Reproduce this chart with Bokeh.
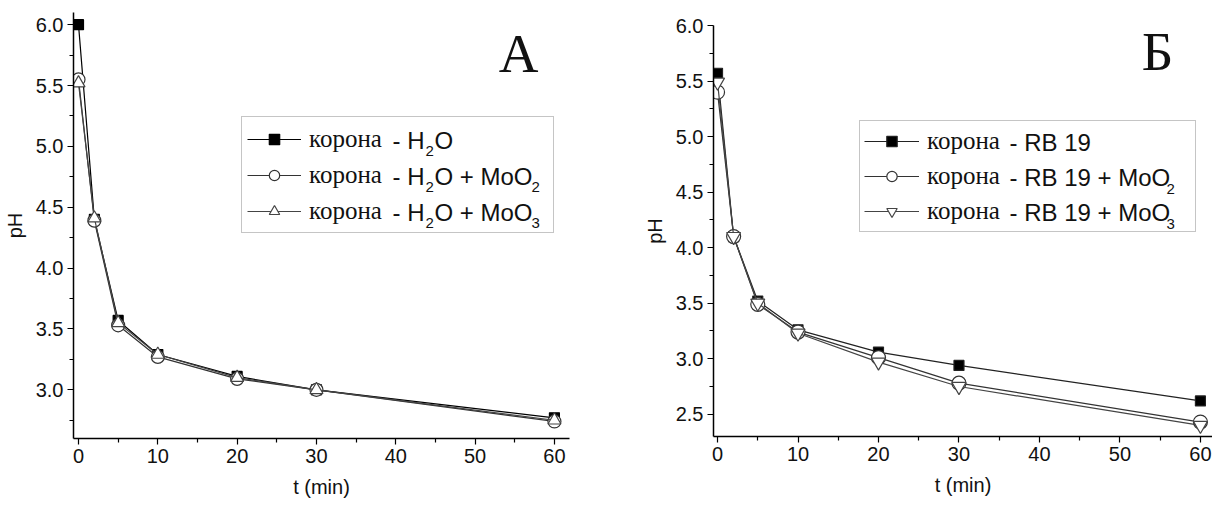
from bokeh.plotting import figure
from bokeh.layouts import row
from bokeh.models import (Range1d, Label, Legend, LegendItem, FixedTicker,
                          PrintfTickFormatter)
from bokeh.embed import file_html
from bokeh.resources import INLINE

# ---------------- data ----------------
t_min = [0, 2, 5, 10, 20, 30, 60]
ph_h2o = [6.00, 4.40, 3.57, 3.29, 3.11, 3.00, 2.77]
ph_h2o_moo2 = [5.55, 4.39, 3.53, 3.27, 3.09, 3.00, 2.74]
ph_h2o_moo3 = [5.52, 4.41, 3.55, 3.29, 3.10, 3.00, 2.75]
ph_rb19 = [5.57, 4.10, 3.52, 3.26, 3.06, 2.94, 2.62]
ph_rb19_moo2 = [5.40, 4.10, 3.49, 3.24, 3.01, 2.78, 2.43]
ph_rb19_moo3 = [5.49, 4.10, 3.50, 3.23, 2.97, 2.75, 2.40]

x_ticks = [0, 10, 20, 30, 40, 50, 60]
x_minor = [5, 15, 25, 35, 45, 55]
y_ticks_a = [3.0, 3.5, 4.0, 4.5, 5.0, 5.5, 6.0]
y_minor_a = [2.75, 3.25, 3.75, 4.25, 4.75, 5.25, 5.75]
y_ticks_b = [2.5, 3.0, 3.5, 4.0, 4.5, 5.0, 5.5, 6.0]
y_minor_b = [2.75, 3.25, 3.75, 4.25, 4.75, 5.25, 5.75]

legend_a = ["корона", "корона", "корона"]
legend_b = ["корона", "корона", "корона"]

SANS = "Liberation Sans"
SERIF = "Liberation Serif"
FIG_H = 506


def make_fig(width, frame, page_x, xr, yr, yt, ym):
    fl, ft, fw, fh = frame
    p = figure(width=width, height=FIG_H, output_backend="svg", toolbar_location=None,
               title=None, frame_align=False,
               x_range=Range1d(*xr), y_range=Range1d(*yr),
               min_border_left=fl - page_x, min_border_right=width - (fl - page_x) - fw,
               min_border_top=ft, min_border_bottom=FIG_H - ft - fh)
    p.outline_line_color = None
    p.xgrid.visible = False
    p.ygrid.visible = False
    p.xaxis.ticker = FixedTicker(ticks=x_ticks, minor_ticks=x_minor)
    p.yaxis.ticker = FixedTicker(ticks=yt, minor_ticks=ym)
    p.yaxis.formatter = PrintfTickFormatter(format="%.1f")
    for ax in (p.xaxis[0], p.yaxis[0]):
        ax.axis_line_color = "black"
        ax.axis_line_width = 1.5
        ax.major_tick_line_color = "black"
        ax.minor_tick_line_color = "black"
        ax.major_tick_line_width = 1.2
        ax.minor_tick_line_width = 1.2
        ax.major_tick_in = 0
        ax.major_tick_out = 6
        ax.minor_tick_in = 0
        ax.minor_tick_out = 4
        ax.major_label_text_font = SANS
        ax.major_label_text_font_size = "20px"
        ax.major_label_text_color = "#111111"
        ax.major_label_standoff = 4
        ax.axis_label_text_font = SANS
        ax.axis_label_text_font_size = "20px"
        ax.axis_label_text_font_style = "normal"
        ax.axis_label_text_color = "#111111"
    p.yaxis.axis_label = "pH"
    p.yaxis.axis_label_standoff = 7
    p.xaxis.axis_label = "t (min)"
    p.xaxis.axis_label_standoff = 10
    return p


def converters(frame, xr, yr):
    fl, ft, fw, fh = frame
    def cx(px):
        return xr[0] + (px - fl) / fw * (xr[1] - xr[0])
    def cy(py):
        return yr[1] - (py - ft) / fh * (yr[1] - yr[0])
    return cx, cy


def add_series(p, y, marker, size, line_color, fill):
    ln = p.line(t_min, y, line_color=line_color, line_width=1.2)
    sc = p.scatter(t_min, y, marker=marker, size=size, line_color=line_color,
                   fill_color=fill, line_width=1.2)
    return [ln, sc]


def add_text(p, x, y, txt, font=SANS, size="24px", style="normal", align="left",
             baseline="middle"):
    p.add_layout(Label(x=x, y=y, text=txt, text_font=font, text_font_size=size,
                       text_font_style=style, text_align=align,
                       text_baseline=baseline, text_color="#111111"))


def add_legend(p, items_r, labels, loc, label_width, label_height, spacing,
               padding, glyph_width):
    leg = Legend(items=[LegendItem(label=l, renderers=r) for l, r in zip(labels, items_r)],
                 location=loc, orientation="vertical",
                 label_text_font=SERIF, label_text_font_size="25px",
                 label_text_color="#111111",
                 label_width=label_width, label_height=label_height,
                 glyph_width=glyph_width, glyph_height=26, label_standoff=8,
                 spacing=spacing, padding=padding, margin=0,
                 border_line_color="#8c8c8c", border_line_width=1,
                 background_fill_alpha=0.0)
    p.add_layout(leg, "center")


# ---------------- panel A ----------------
frame_a = (73, 12, 496, 426)
xr_a = (-0.63, 61.9)
yr_a = (2.6, 6.1)
pa = make_fig(600, frame_a, 0, xr_a, yr_a, y_ticks_a, y_minor_a)
cxa, cya = converters(frame_a, xr_a, yr_a)

ra1 = add_series(pa, ph_h2o, "square", 10, "black", "black")
ra2 = add_series(pa, ph_h2o_moo2, "circle", 13, "#333333", "white")
ra3 = add_series(pa, ph_h2o_moo3, "triangle", 13, "#444444", "white")
add_legend(pa, [ra1, ra2, ra3], legend_a, (241 - 73, 438 - 233), 239, 33, 3, 5, 54)

rows_a = [139.5, 175.5, 211.5]
add_text(pa, cxa(392), cya(rows_a[0]), "- H")
add_text(pa, cxa(425), cya(rows_a[0] + 11), "2", size="15px")
add_text(pa, cxa(434), cya(rows_a[0]), "O")
for r, sub in ((rows_a[1], "2"), (rows_a[2], "3")):
    add_text(pa, cxa(392), cya(r), "- H")
    add_text(pa, cxa(425), cya(r + 11), "2", size="15px")
    add_text(pa, cxa(434), cya(r), "O + MoO")
    add_text(pa, cxa(531), cya(r + 11), sub, size="15px")

add_text(pa, cxa(518), cya(53), "А", font=SERIF, size="55px", align="center")

# ---------------- panel B ----------------
frame_b = (713, 25, 499, 411)
xr_b = (-0.5, 61.5)
yr_b = (2.3, 6.0)
pb = make_fig(612, frame_b, 600, xr_b, yr_b, y_ticks_b, y_minor_b)
cxb, cyb = converters(frame_b, xr_b, yr_b)

rb1 = add_series(pb, ph_rb19, "square", 10, "#222222", "black")
rb2 = add_series(pb, ph_rb19_moo2, "circle", 14, "#333333", "white")
rb3 = add_series(pb, ph_rb19_moo3, "inverted_triangle", 14, "#444444", "white")
add_legend(pb, [rb1, rb2, rb3], legend_b, (859 - 713, 436 - 232), 264, 32, 3, 4, 55)

rows_b = [142.0, 177.0, 212.0]
add_text(pb, cxb(1009), cyb(rows_b[0]), "- RB 19")
for r, sub in ((rows_b[1], "2"), (rows_b[2], "3")):
    add_text(pb, cxb(1009), cyb(r), "- RB 19 + MoO")
    add_text(pb, cxb(1166), cyb(r + 11), sub, size="15px")

add_text(pb, cxb(1157), cyb(51), "Б", font=SERIF, size="55px", align="center")

layout = row(pa, pb, spacing=0)
open("out.html", "w").write(file_html(layout, INLINE))
